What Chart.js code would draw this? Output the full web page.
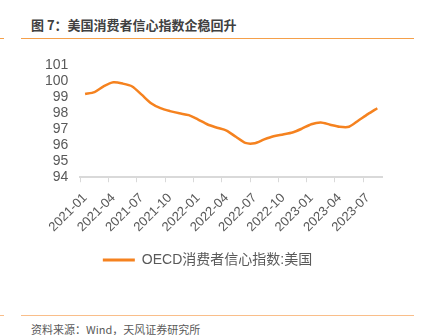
<!DOCTYPE html>
<html><head><meta charset="utf-8">
<script src="https://cdn.jsdelivr.net/npm/chart.js@4/dist/chart.umd.min.js"></script>
<style>
html,body{margin:0;padding:0;background:#fff;width:425px;height:335px;overflow:hidden;position:relative;font-family:"Noto Sans CJK SC","Liberation Sans",sans-serif;}
#title{position:absolute;left:31px;top:16px;font-size:13px;font-weight:bold;color:#404040;white-space:pre;line-height:18px;}
#foot{position:absolute;left:31px;top:321px;font-size:11px;color:#595959;white-space:nowrap;line-height:16px;}
.ln{position:absolute;height:1px;}
#wrap{position:absolute;left:0;top:45px;width:425px;height:232px;}
</style></head><body>
<div id="title">图 7：美国消费者信心指数企稳回升</div>
<div class="ln" style="left:21px;top:38px;width:393px;background:#F5A04A"></div>
<div class="ln" style="left:0;top:38px;width:4px;background:#F5A04A"></div>
<div class="ln" style="left:21px;top:315px;width:393px;background:#F9BE8A"></div>
<div class="ln" style="left:0;top:315px;width:4px;background:#F9BE8A"></div>
<div id="foot">资料来源：Wind，天风证券研究所</div>
<div id="wrap"><canvas id="c"></canvas></div>
<script>
const months = ["2021-01","2021-02","2021-03","2021-04","2021-05","2021-06","2021-07","2021-08","2021-09","2021-10","2021-11","2021-12",
"2022-01","2022-02","2022-03","2022-04","2022-05","2022-06","2022-07","2022-08","2022-09","2022-10","2022-11","2022-12",
"2023-01","2023-02","2023-03","2023-04","2023-05","2023-06","2023-07","2023-08"];
const usConfidence = [99.21,99.33,99.70,99.94,99.86,99.68,99.17,98.63,98.32,98.14,98.00,97.89,
97.61,97.30,97.10,96.92,96.53,96.15,96.13,96.37,96.57,96.68,96.80,97.04,
97.32,97.43,97.29,97.16,97.16,97.55,97.95,98.32];
const seriesName = "OECD消费者信心指数:美国";
const yMin = 94, yMax = 101;
const orange = "#F5821F";
const grey = "#595959";

new Chart(document.getElementById('c'), {
  type: 'line',
  data: { labels: months, datasets: [{
    label: seriesName, data: usConfidence, borderColor: orange, backgroundColor: orange,
    borderWidth: 2.5, pointRadius: 0, tension: 0.25, fill: false
  }]},
  options: {
    responsive: true, maintainAspectRatio: false, animation: false,
    layout: { padding: { left: 33, right: 43, top: 8, bottom: 0 } },
    plugins: {
      tooltip: { enabled: false },
      legend: { position: 'bottom', labels: {
        color: grey, font: { size: 14, family: '"Liberation Sans","Noto Sans CJK SC",sans-serif' },
        boxWidth: 32, boxHeight: 3, padding: 10,
        generateLabels: (chart) => Chart.defaults.plugins.legend.labels.generateLabels(chart).map(l => Object.assign(l, { lineWidth: 0 }))
      }}
    },
    scales: {
      x: {
        offset: true,
        grid: { offset: true, drawOnChartArea: false, drawTicks: true, tickLength: 5,
          color: (ctx) => (ctx.index % 3 === 0 ? '#d9d9d9' : 'rgba(0,0,0,0)') },
        border: { display: true, color: '#d9d9d9', width: 2 },
        ticks: { autoSkip: false, maxRotation: 45, minRotation: 45, color: grey, padding: 8,
          font: { size: 13, family: '"Liberation Sans",sans-serif' },
          callback: function(v, i) { return i % 3 === 0 ? this.getLabelForValue(v) : ''; } }
      },
      y: {
        min: yMin, max: yMax,
        grid: { display: false, drawTicks: false },
        border: { display: false },
        ticks: { stepSize: 1, autoSkip: false, color: grey, padding: 12, font: { size: 14, family: '"Liberation Sans",sans-serif' } }
      }
    }
  }
});
</script>
</body></html>
